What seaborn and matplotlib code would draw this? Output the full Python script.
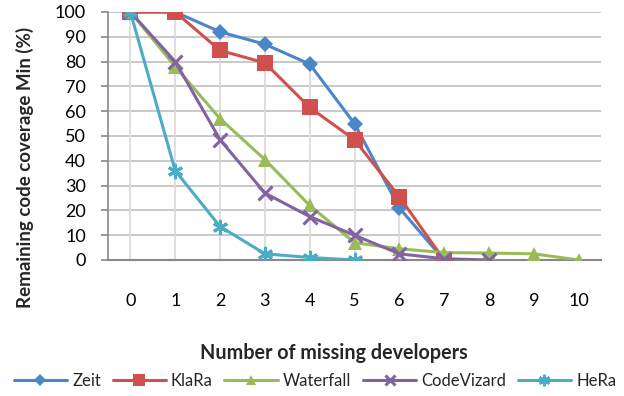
import matplotlib
matplotlib.use("Agg")
import matplotlib.pyplot as plt
import seaborn as sns
import pandas as pd
import numpy as np

x_zeit = [0, 1, 2, 3, 4, 5, 6, 7]
zeit = [100, 100, 92, 87, 79, 55, 21, 0]
x_klara = [0, 1, 2, 3, 4, 5, 6, 7]
klara = [100, 100, 84.5, 79.5, 61.5, 48.5, 25.5, 0]
x_waterfall = [0, 1, 2, 3, 4, 5, 6, 7, 8, 9, 10]
waterfall = [100, 78, 57, 40.5, 22, 7, 4.5, 3, 2.8, 2.5, 0]
x_codevizard = [0, 1, 2, 3, 4, 5, 6, 7, 8]
codevizard = [100, 80, 48.5, 27, 17.5, 10, 2.5, 0.5, 0]
x_hera = [0, 1, 2, 3, 4, 5]
hera = [100, 36, 13.5, 2.5, 1, 0]

names = ["Zeit", "KlaRa", "Waterfall", "CodeVizard", "HeRa"]
xs = [x_zeit, x_klara, x_waterfall, x_codevizard, x_hera]
ys = [zeit, klara, waterfall, codevizard, hera]
colors = ["#4a86c8", "#cf504d", "#9bbb59", "#8064a2", "#4bacc6"]
markers = ["D", "s", "^", "x", (6, 2, 0)]
msizes = [8, 11, 10, 10, 11]

rows = []
for n, xx, yy in zip(names, xs, ys):
    for a, b in zip(xx, yy):
        rows.append({"series": n, "x": a, "y": b})
df = pd.DataFrame(rows)

sns.set_style("white")
plt.rcParams['font.family'] = ['Lato', 'DejaVu Sans']

fig = plt.figure(figsize=(6.24, 3.96), dpi=100)
ax = fig.add_axes([108/624, 1-260/396, (601-108)/624, (260-12)/396])

# drop lines
xmax = df.groupby("x")["y"].max()
ax.vlines(xmax.index, 0, xmax.values, color="#d9d9d9", lw=1.2, zorder=1)

for y in range(10, 101, 10):
    ax.axhline(y, color="#bfbfbf", lw=1.2, zorder=0)

for n, c, m, ms in zip(names, colors, markers, msizes):
    sub = df[df["series"] == n]
    kw = dict(mew=2.2) if m in ("x", (6, 2, 0)) else dict(mew=0)
    sns.lineplot(data=sub, x="x", y="y", ax=ax, color=c, lw=2.2, marker=m,
                 markersize=ms, markeredgecolor=c, label=n, zorder=3, **kw)

ax.set_xlim(-0.5, 10.5)
ax.set_ylim(0, 100)
ax.set_yticks(range(0, 101, 10))
ax.set_xticks(range(0, 11))
ax.tick_params(axis="y", labelsize=13, length=5, width=1.2, color="#888888", pad=11, direction="out", left=True)
ax.tick_params(axis="x", labelsize=13, length=0, pad=24)
for s in ["top", "right"]:
    ax.spines[s].set_visible(False)
ax.spines["left"].set_color("#888888")
ax.spines["bottom"].set_color("#888888")
ax.spines["left"].set_linewidth(1.2)
ax.spines["bottom"].set_linewidth(1.5)
ax.set_xlabel("Number of missing developers", fontsize=14.2, fontweight="bold")
ax.xaxis.set_label_coords((334 - 108) / 493, -(353 - 260) / 248, transform=ax.transAxes)
ax.xaxis.label.set_va("center")
ax.set_ylabel("Remaining code coverage Min (%)", fontsize=13.5, fontweight="bold")
ax.yaxis.set_label_coords(-(108 - 25) / 493, (260 - 167) / 248, transform=ax.transAxes)
ax.yaxis.label.set_va("center")

ax.legend(loc="center", bbox_to_anchor=(315 / 624, 1 - 381 / 396), bbox_transform=fig.transFigure,
          ncol=5, frameon=False, fontsize=12, handlelength=3.2, columnspacing=0.7,
          handletextpad=0.3, borderpad=0, borderaxespad=0, markerscale=0.75)
for t in ax.get_yticklabels() + ax.get_xticklabels():
    t.set_color("#000000")

fig.savefig("out.png", dpi=100)
